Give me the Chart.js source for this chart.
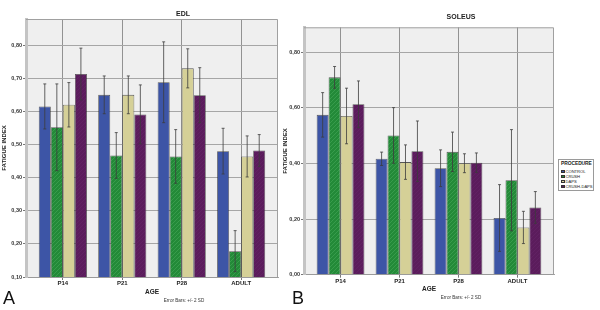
<!DOCTYPE html>
<html>
<head>
<meta charset="utf-8">
<script src="https://cdn.jsdelivr.net/npm/chart.js@4.4.1/dist/chart.umd.min.js"></script>
<style>
  html, body { margin: 0; padding: 0; background: #fff; }
  body { width: 600px; height: 310px; position: relative; overflow: hidden; font-family: "Liberation Sans", Arial, sans-serif; color: #222; }
  canvas { position: absolute; top: 0; }
  #edlChart { left: 0; }
  #soleusChart { left: 281px; }
  .txt { position: absolute; white-space: nowrap; line-height: 1; }
  .ttl { font-size: 7px; font-weight: bold; transform: translateX(-50%); }
  .note { font-size: 4.6px; transform: translateX(-50%); color: #333; }
  .panel { font-size: 18px; color: #111; }
  #legend { position: absolute; left: 558px; top: 159px; width: 36px; height: 32px; border: 1px solid #9a9a9a; background: #fff; box-sizing: border-box; padding: 2px 0 0 2px; white-space: nowrap; overflow: hidden; }
  #legend .lt { font-size: 4.9px; font-weight: bold; line-height: 1; margin-bottom: 2px; letter-spacing: -0.05px; }
  #legend .row { font-size: 4.1px; line-height: 5px; height: 5px; display: flex; align-items: center; white-space: nowrap; }
  #legend .sw { flex: none; width: 3.5px; height: 3.5px; margin-right: 1px; border: 0.5px solid #333; box-sizing: border-box; }
</style>
</head>
<body>
<canvas id="edlChart" width="282" height="310"></canvas>
<canvas id="soleusChart" width="319" height="310"></canvas>

<div class="txt ttl" style="left:183px; top:10px;">EDL</div>
<div class="txt ttl" style="left:461px; top:13px;">SOLEUS</div>
<div class="txt panel" style="left:3px; top:289px;">A</div>
<div class="txt panel" style="left:292px; top:289px;">B</div>
<div class="txt note" style="left:184px; top:299px;">Error Bars: +/- 2 SD</div>
<div class="txt note" style="left:461px; top:296px;">Error Bars: +/- 2 SD</div>
<div id="legend"></div>

<script>
const ageLabels = ['P14', 'P21', 'P28', 'ADULT'];
const procedures = ['CONTROL', 'CRUSH', 'DAPS', 'CRUSH-DAPS'];

const edlTicks = [0.1, 0.2, 0.3, 0.4, 0.5, 0.6, 0.7, 0.8];
const soleusTicks = [0, 0.2, 0.4, 0.6, 0.8];

// EDL fatigue index (mean) and error bar half-width (2 SD)
const edlControl = [0.615, 0.650, 0.688, 0.480];
const edlCrush = [0.552, 0.467, 0.464, 0.178];
const edlDaps = [0.620, 0.650, 0.730, 0.464];
const edlCrushDaps = [0.713, 0.591, 0.649, 0.482];
const edlControlErr = [0.068, 0.057, 0.122, 0.069];
const edlCrushErr = [0.131, 0.069, 0.081, 0.062];
const edlDapsErr = [0.067, 0.057, 0.059, 0.062];
const edlCrushDapsErr = [0.078, 0.089, 0.083, 0.048];

// SOLEUS
const soleusControl = [0.575, 0.417, 0.383, 0.204];
const soleusCrush = [0.710, 0.501, 0.442, 0.340];
const soleusDaps = [0.571, 0.405, 0.401, 0.170];
const soleusCrushDaps = [0.613, 0.444, 0.403, 0.242];
const soleusControlErr = [0.080, 0.024, 0.066, 0.120];
const soleusCrushErr = [0.039, 0.100, 0.071, 0.182];
const soleusDapsErr = [0.100, 0.062, 0.034, 0.058];
const soleusCrushDapsErr = [0.084, 0.109, 0.035, 0.057];

const baseColors = ['#3d55a6', '#238a38', '#d5d097', '#5b1c5c'];

function hatch(base, line) {
    const c = document.createElement('canvas');
    c.width = 4; c.height = 4;
    const g = c.getContext('2d');
    g.fillStyle = base;
    g.fillRect(0, 0, 4, 4);
    g.strokeStyle = line;
    g.lineWidth = 1;
    g.beginPath();
    g.moveTo(0, 4); g.lineTo(4, 0);
    g.moveTo(-1, 1); g.lineTo(1, -1);
    g.moveTo(3, 5); g.lineTo(5, 3);
    g.stroke();
    return g.createPattern(c, 'repeat');
}

const fills = [
    baseColors[0],
    hatch(baseColors[1], '#389c4c'),
    baseColors[2],
    hatch(baseColors[3], '#612163')
];

function buildDatasets(series, errors) {
    return series.map((values, k) => ({
        label: procedures[k],
        data: values.map((v, i) => ({ x: i, y: v })),
        errors: errors[k],
        backgroundColor: fills[k],
        borderColor: 'rgba(35,35,35,0.75)',
        borderWidth: 0.8,
        categoryPercentage: 0.81,
        barPercentage: 1.0
    }));
}

// fond gris + cadre + barres d'erreur
const plotDecor = {
    id: 'plotDecor',
    beforeDraw(chart) {
        const a = chart.chartArea, ctx = chart.ctx;
        ctx.save();
        ctx.fillStyle = '#efefef';
        ctx.fillRect(a.left, a.top, a.right - a.left, a.bottom - a.top);
        ctx.restore();
    },
    afterDatasetsDraw(chart) {
        const ctx = chart.ctx, y = chart.scales.y, a = chart.chartArea;
        ctx.save();
        ctx.strokeStyle = '#3c3c3c';
        ctx.lineWidth = 0.8;
        chart.data.datasets.forEach((ds, d) => {
            const meta = chart.getDatasetMeta(d);
            meta.data.forEach((bar, i) => {
                const v = ds.data[i].y, e = ds.errors[i];
                const top = y.getPixelForValue(v + e);
                const bot = Math.min(y.getPixelForValue(v - e), a.bottom);
                ctx.beginPath();
                ctx.moveTo(bar.x, top); ctx.lineTo(bar.x, bot);
                ctx.moveTo(bar.x - 1.5, top); ctx.lineTo(bar.x + 1.5, top);
                if (bot < a.bottom) { ctx.moveTo(bar.x - 1.5, bot); ctx.lineTo(bar.x + 1.5, bot); }
                ctx.stroke();
            });
        });
        ctx.strokeStyle = '#a0a0a0';
        ctx.lineWidth = 1;
        ctx.beginPath();
        ctx.moveTo(a.left, a.top + 0.5); ctx.lineTo(a.right - 0.5, a.top + 0.5); ctx.lineTo(a.right - 0.5, a.bottom);
        ctx.stroke();
        ctx.restore();
    }
};

function makeChart(id, series, errors, tickValues, yMin, yMax, opt) {
    const tickFont = { family: 'Liberation Sans', size: 5.5, weight: 'bold' };
    return new Chart(document.getElementById(id), {
        type: 'bar',
        data: { datasets: buildDatasets(series, errors) },
        plugins: [plotDecor],
        options: {
            responsive: false,
            animation: false,
            layout: { padding: { top: opt.top, right: opt.right, left: 0, bottom: 0 } },
            plugins: { legend: { display: false }, tooltip: { enabled: false } },
            scales: {
                x: {
                    type: 'linear',
                    min: -0.62,
                    max: 3.62,
                    offset: false,
                    afterBuildTicks: s => { s.ticks = ageLabels.map((_, i) => ({ value: i })); },
                    afterFit: s => { s.height = opt.xHeight; },
                    ticks: {
                        callback: v => ageLabels[v],
                        font: { family: 'Liberation Sans', size: 6, weight: 'bold' },
                        color: '#222',
                        padding: opt.xPad,
                        maxRotation: 0
                    },
                    grid: { offset: false, color: '#7a7a7a', lineWidth: 0.8, tickLength: 3, tickColor: '#555' },
                    border: { color: '#9a9a9a', width: 1 },
                    title: {
                        display: true,
                        text: 'AGE',
                        font: { family: 'Liberation Sans', size: 6.5, weight: 'bold' },
                        color: '#222',
                        padding: { top: 0, bottom: opt.agePad }
                    }
                },
                y: {
                    min: yMin,
                    max: yMax,
                    afterBuildTicks: s => { s.ticks = tickValues.map(v => ({ value: v })); },
                    afterFit: s => { s.width = opt.yWidth; },
                    ticks: {
                        callback: v => v.toFixed(2).replace('.', ','),
                        font: tickFont,
                        color: '#333',
                        padding: 1
                    },
                    grid: { color: '#a6a6a6', lineWidth: 1, tickLength: 3, tickColor: '#777' },
                    border: { color: '#c4c4c4', width: 3 },
                    title: {
                        display: true,
                        text: 'FATIGUE INDEX',
                        font: { family: 'Liberation Sans', size: 6, weight: 'bold' },
                        color: '#222',
                        padding: { top: 1, bottom: 0 }
                    }
                }
            }
        }
    });
}

makeChart('edlChart',
    [edlControl, edlCrush, edlDaps, edlCrushDaps],
    [edlControlErr, edlCrushErr, edlDapsErr, edlCrushDapsErr],
    edlTicks, 0.1, 0.879,
    { top: 19, right: 4, yWidth: 26, xHeight: 33, xPad: 0, agePad: 14 });

makeChart('soleusChart',
    [soleusControl, soleusCrush, soleusDaps, soleusCrushDaps],
    [soleusControlErr, soleusCrushErr, soleusDapsErr, soleusCrushDapsErr],
    soleusTicks, 0, 0.89,
    { top: 27.3, right: 46, yWidth: 23, xHeight: 35.3, xPad: 0.5, agePad: 17 });

// légende
const legend = document.getElementById('legend');
legend.innerHTML = '<div class="lt">PROCEDURE</div>' + procedures.map((p, k) =>
    '<div class="row"><span class="sw" style="background:' + baseColors[k] + '"></span>' + p + '</div>').join('');
</script>
</body>
</html>
